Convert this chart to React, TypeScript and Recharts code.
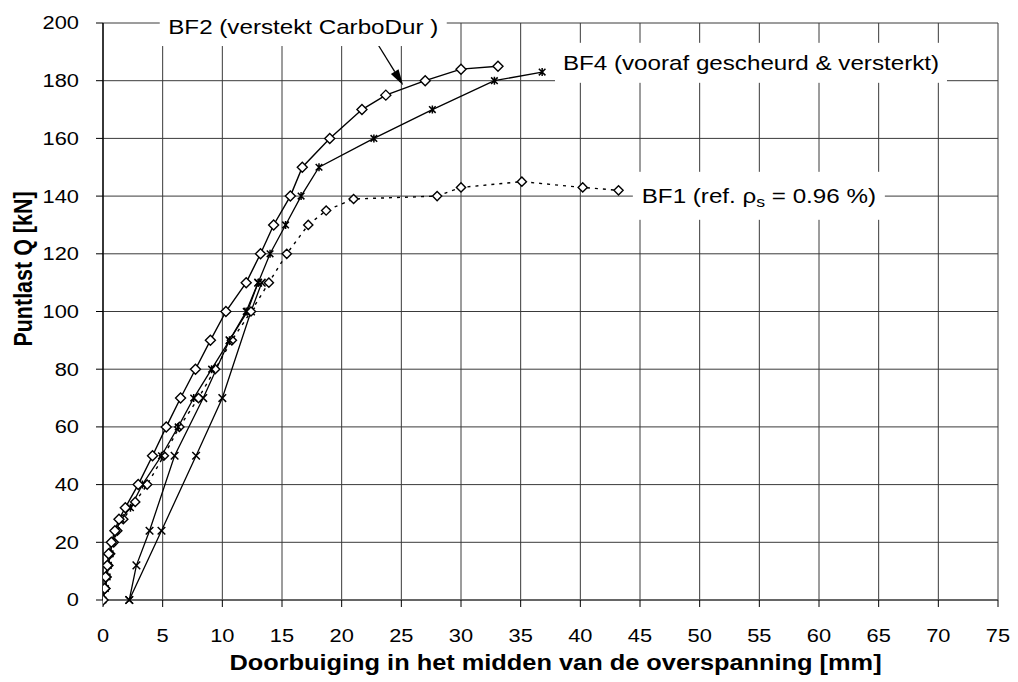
import {
  CartesianGrid,
  Line,
  LineChart,
  ReferenceDot,
  ReferenceLine,
  XAxis,
  YAxis,
} from "recharts";

type Pt = { x: number; y: number };

const X_TICKS = [0, 5, 10, 15, 20, 25, 30, 35, 40, 45, 50, 55, 60, 65, 70, 75];
const Y_TICKS = [0, 20, 40, 60, 80, 100, 120, 140, 160, 180, 200];

// BF2 (versterkt CarboDur) - solid, diamonds
const bf2: Pt[] = [
  { x: 0, y: 0 }, { x: 0.14, y: 4 }, { x: 0.22, y: 8 }, { x: 0.36, y: 12 },
  { x: 0.47, y: 16 }, { x: 0.7, y: 20 }, { x: 1.0, y: 24 }, { x: 1.34, y: 28 },
  { x: 1.87, y: 32 }, { x: 2.95, y: 40 }, { x: 4.15, y: 50 }, { x: 5.3, y: 60 },
  { x: 6.5, y: 70 }, { x: 7.75, y: 80 }, { x: 9.0, y: 90 }, { x: 10.3, y: 100 },
  { x: 12.0, y: 110 }, { x: 13.2, y: 120 }, { x: 14.3, y: 130 }, { x: 15.7, y: 140 },
  { x: 16.7, y: 150 }, { x: 19.0, y: 160 }, { x: 21.7, y: 170 }, { x: 23.7, y: 175 },
  { x: 27.0, y: 180 }, { x: 30.0, y: 184 }, { x: 33.1, y: 185 },
];

// BF1 (referentie) - dotted, diamonds
const bf1: Pt[] = [
  { x: 0, y: 0 }, { x: 0.2, y: 4 }, { x: 0.3, y: 8 }, { x: 0.45, y: 12 },
  { x: 0.6, y: 16 }, { x: 0.9, y: 20 }, { x: 1.2, y: 24 }, { x: 1.7, y: 28 },
  { x: 2.7, y: 34 }, { x: 3.7, y: 40 }, { x: 5.1, y: 50 }, { x: 6.4, y: 60 },
  { x: 8.0, y: 70 }, { x: 9.4, y: 80 }, { x: 10.8, y: 90 }, { x: 12.4, y: 100 },
  { x: 13.9, y: 110 }, { x: 15.4, y: 120 }, { x: 17.2, y: 130 }, { x: 18.7, y: 135 },
  { x: 21.0, y: 139 }, { x: 28.0, y: 140 }, { x: 30.0, y: 143 }, { x: 35.1, y: 145 },
  { x: 40.2, y: 143 }, { x: 43.2, y: 142 },
];

// BF4 (vooraf gescheurd & versterkt) - solid, asterisks
const bf4: Pt[] = [
  { x: 0, y: 0 }, { x: 0.2, y: 4 }, { x: 0.35, y: 8 }, { x: 0.45, y: 12 },
  { x: 0.6, y: 16 }, { x: 0.8, y: 20 }, { x: 1.1, y: 24 }, { x: 1.5, y: 28 },
  { x: 2.3, y: 32 }, { x: 3.3, y: 40 }, { x: 4.9, y: 50 }, { x: 6.3, y: 60 },
  { x: 7.6, y: 70 }, { x: 9.1, y: 80 }, { x: 10.6, y: 90 }, { x: 12.0, y: 100 },
  { x: 13.0, y: 110 }, { x: 14.0, y: 120 }, { x: 15.3, y: 130 }, { x: 16.6, y: 140 },
  { x: 18.1, y: 150 }, { x: 22.7, y: 160 }, { x: 27.6, y: 170 }, { x: 32.8, y: 180 },
  { x: 36.8, y: 183 },
];

// herbelasting na scheuren - solid, crosses
const scheurA: Pt[] = [
  { x: 2.2, y: 0 }, { x: 2.8, y: 12 }, { x: 3.9, y: 24 }, { x: 6.0, y: 50 },
  { x: 8.4, y: 70 }, { x: 10.6, y: 90 }, { x: 12.1, y: 100 }, { x: 13.0, y: 110 },
];
const scheurB: Pt[] = [
  { x: 2.2, y: 0 }, { x: 4.9, y: 24 }, { x: 7.8, y: 50 }, { x: 10.0, y: 70 },
  { x: 12.4, y: 100 }, { x: 13.3, y: 110 },
];

const FONT = "'Liberation Sans', Arial, sans-serif";
const GRID = "#3a3a3a";
// the original picture is stretched horizontally, so text is widened a bit
const SX = 1.18;

const diamond = (r: number) => (p: any) => {
  const { cx, cy, index } = p;
  if (cx == null || cy == null) return <g key={index} />;
  return (
    <path
      key={index}
      d={`M${cx},${cy - r}L${cx + r},${cy}L${cx},${cy + r}L${cx - r},${cy}Z`}
      fill="#fff"
      stroke="#000"
      strokeWidth={1.4}
    />
  );
};

const cross = (p: any) => {
  const { cx, cy, index } = p;
  if (cx == null || cy == null) return <g key={index} />;
  const r = 3.8;
  return (
    <path
      key={index}
      d={`M${cx - r},${cy - r}L${cx + r},${cy + r}M${cx - r},${cy + r}L${cx + r},${cy - r}`}
      stroke="#000"
      strokeWidth={1.5}
    />
  );
};

const asterisk = (p: any) => {
  const { cx, cy, index } = p;
  if (cx == null || cy == null) return <g key={index} />;
  const r = 3.3;
  return (
    <path
      key={index}
      d={`M${cx - r},${cy - r}L${cx + r},${cy + r}M${cx - r},${cy + r}L${cx + r},${cy - r}M${cx},${cy - 4}L${cx},${cy + 4}`}
      stroke="#000"
      strokeWidth={1.5}
    />
  );
};

const XTick = (p: any) => (
  <text
    transform={`translate(${p.x},${p.y}) scale(${SX},1)`}
    textAnchor="middle"
    dy="0.71em"
    fontFamily={FONT}
    fontSize={18.5}
    fill="#000"
  >
    {p.payload.value}
  </text>
);

const YTick = (p: any) => (
  <text
    transform={`translate(${p.x},${p.y}) scale(${SX},1)`}
    textAnchor="end"
    dominantBaseline="central"
    fontFamily={FONT}
    fontSize={18.5}
    fill="#000"
  >
    {p.payload.value}
  </text>
);

const XTitle = (p: any) => {
  const vb = p.viewBox ?? {};
  return (
    <text
      transform={`translate(${vb.x + vb.width / 2 + 5},${vb.y + 63}) scale(${SX},1)`}
      textAnchor="middle"
      dominantBaseline="central"
      fontFamily={FONT}
      fontSize={21.5}
      fontWeight="bold"
      fill="#000"
    >
      Doorbuiging in het midden van de overspanning [mm]
    </text>
  );
};

const YTitle = (p: any) => {
  const vb = p.viewBox ?? {};
  return (
    <text
      transform={`translate(${vb.x + 23},${vb.y + 246}) scale(${SX},1) rotate(-90)`}
      textAnchor="middle"
      dominantBaseline="central"
      fontFamily={FONT}
      fontSize={21.5}
      fontWeight="bold"
      fill="#000"
    >
      Puntlast Q [kN]
    </text>
  );
};

function labelBox(w: number, h: number, content: JSX.Element) {
  return (p: any) => {
    const { cx, cy } = p;
    if (cx == null) return <g />;
    return (
      <g>
        <rect x={cx - w / 2} y={cy - h / 2} width={w} height={h} fill="#fff" />
        <text
          transform={`translate(${cx},${cy}) scale(${SX},1)`}
          textAnchor="middle"
          dominantBaseline="central"
          fontFamily={FONT}
          fontSize={20.5}
          fill="#000"
        >
          {content}
        </text>
      </g>
    );
  };
}

const arrowShape = (p: any) => {
  const { x1, y1, x2, y2 } = p;
  if (x1 == null) return <g />;
  const ang = Math.atan2(y2 - y1, x2 - x1);
  const len = 16;
  const half = 4.5;
  const bx = x2 - len * Math.cos(ang);
  const by = y2 - len * Math.sin(ang);
  const nx = -Math.sin(ang) * half;
  const ny = Math.cos(ang) * half;
  return (
    <g>
      <line x1={x1} y1={y1} x2={bx} y2={by} stroke="#000" strokeWidth={1.3} />
      <path d={`M${x2},${y2}L${bx + nx},${by + ny}L${bx - nx},${by - ny}Z`} fill="#000" />
    </g>
  );
};

export default function App() {
  return (
    <div style={{ width: 1018, height: 682, background: "#fff" }}>
      <style>{"body{margin:0;background:#fff}"}</style>
      <LineChart width={1018} height={682} margin={{ top: 23, right: 20, left: 0, bottom: 12 }}>
        <CartesianGrid stroke={GRID} strokeWidth={1} />
        <XAxis
          type="number"
          dataKey="x"
          domain={[0, 75]}
          ticks={X_TICKS}
          interval={0}
          allowDataOverflow
          tick={XTick}
          tickSize={7}
          tickMargin={22}
          height={70}
          axisLine={{ stroke: "#555", strokeWidth: 1.5 }}
          tickLine={{ stroke: "#000" }}
          label={XTitle}
        />
        <YAxis
          type="number"
          dataKey="y"
          domain={[0, 200]}
          ticks={Y_TICKS}
          interval={0}
          tick={YTick}
          tickSize={7}
          tickMargin={17}
          width={103}
          axisLine={{ stroke: "#000", strokeWidth: 1.3 }}
          tickLine={{ stroke: "#000" }}
          label={YTitle}
        />
        <Line data={scheurB} dataKey="y" stroke="#000" strokeWidth={1.3} dot={cross} isAnimationActive={false} />
        <Line data={scheurA} dataKey="y" stroke="#000" strokeWidth={1.3} dot={cross} isAnimationActive={false} />
        <Line
          data={bf1}
          dataKey="y"
          stroke="#000"
          strokeWidth={1.4}
          strokeDasharray="3 5"
          dot={diamond(4.6)}
          isAnimationActive={false}
        />
        <Line data={bf4} dataKey="y" stroke="#000" strokeWidth={1.3} dot={asterisk} isAnimationActive={false} />
        <Line data={bf2} dataKey="y" stroke="#000" strokeWidth={1.4} dot={diamond(5)} isAnimationActive={false} />
        <ReferenceLine
          segment={[{ x: 23.0, y: 192.8 }, { x: 25.15, y: 178.4 }]}
          ifOverflow="visible"
          shape={arrowShape}
        />
        <ReferenceDot
          x={16.78}
          y={198.6}
          r={0}
          ifOverflow="visible"
          shape={labelBox(287, 38, <>BF2 (verstekt CarboDur )</>)}
        />
        <ReferenceDot
          x={54.3}
          y={186.2}
          r={0}
          ifOverflow="visible"
          shape={labelBox(392, 40, <>BF4 (vooraf gescheurd &amp; versterkt)</>)}
        />
        <ReferenceDot
          x={54.96}
          y={140.1}
          r={0}
          ifOverflow="visible"
          shape={labelBox(
            252,
            48,
            <>
              BF1 (ref. ρ
              <tspan fontSize={15} dy={6}>s</tspan>
              <tspan dy={-6}> = 0.96 %)</tspan>
            </>,
          )}
        />
      </LineChart>
    </div>
  );
}
